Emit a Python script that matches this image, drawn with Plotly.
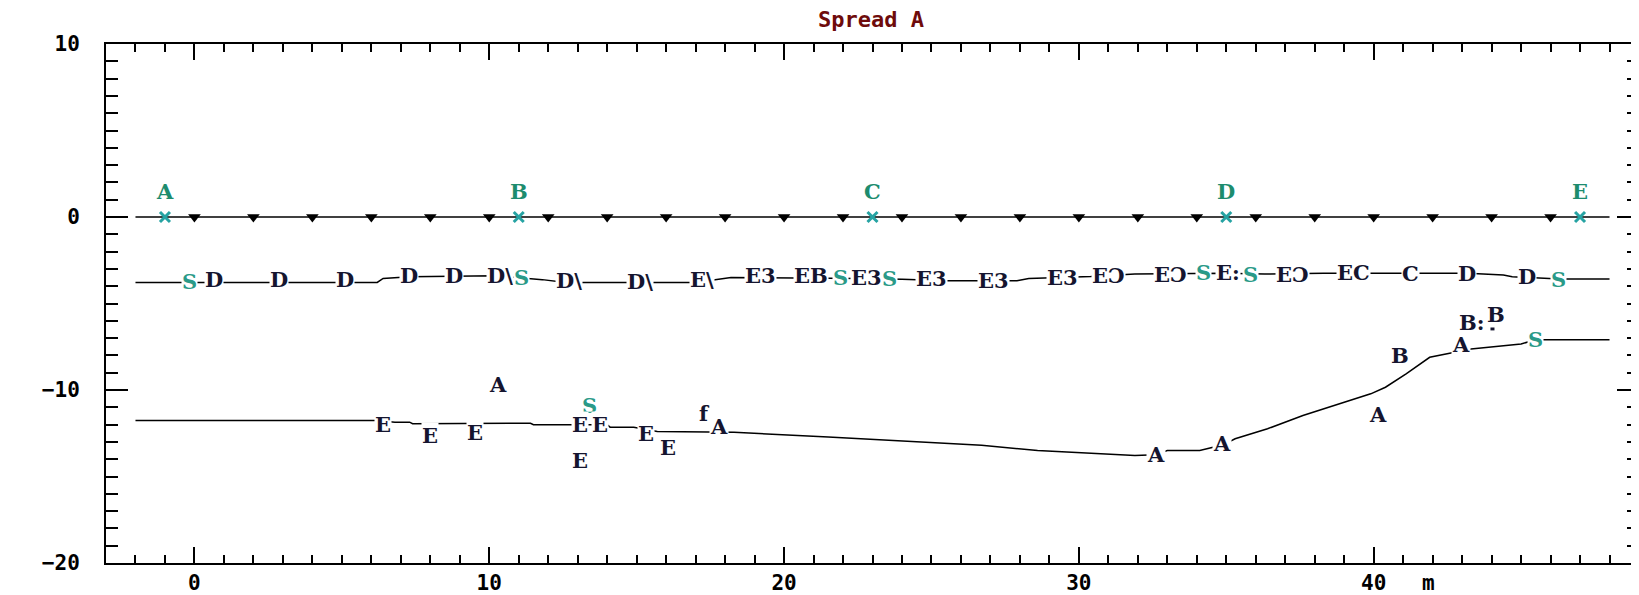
import plotly.graph_objects as go

# ---------------- data ----------------
title_text = "Spread A"

# spread line (y = 0) with geophones and shots
spread_x = [-2, 48]
spread_y = [0, 0]
geo_x = [0, 2, 4, 6, 8, 10, 12, 14, 16, 18, 20, 22, 24, 26, 28, 30, 32, 34, 36, 38, 40, 42, 44, 46]
geo_y = [0] * len(geo_x)
shot_x = [-1, 11, 23, 35, 47]
shot_y = [0, 0, 0, 0, 0]
shot_names = ["A", "B", "C", "D", "E"]

# first refractor (middle line)
mid_x = [-2, 6.2, 6.4, 7.3, 10.2, 11.1, 11.8, 12.6, 17.0, 18.2, 21.5, 22.6, 24.0, 25.5, 27.9,
         28.3, 30.4, 31.9, 34.9, 36.3, 38.3, 43.2, 44.4, 44.7, 46.3, 48]
mid_y = [-3.78, -3.78, -3.55, -3.45, -3.40, -3.50, -3.62, -3.78, -3.78, -3.50, -3.52, -3.55, -3.60,
         -3.68, -3.68, -3.55, -3.44, -3.30, -3.25, -3.30, -3.25, -3.25, -3.35, -3.45, -3.59, -3.59]
mid_lab_text = ["S", "D", "D", "D", "D", "D", "D\\", "S", "D\\", "D\\", "E\\", "E3", "EB", "S", "E3",
                "S", "E3", "E3", "E3", "EƆ", "EƆ", "S", "E:", "S", "EƆ", "EC", "C", "D", "D", "S"]
mid_lab_x = [-0.17, 0.68, 2.88, 5.12, 7.29, 8.8, 10.35, 11.08, 12.7, 15.1, 17.2, 19.2, 20.9, 21.9, 22.8,
             23.57, 25.0, 27.1, 29.45, 31.0, 33.1, 34.23, 35.05, 35.81, 37.25, 39.3, 41.24, 43.16, 45.2, 46.27]
mid_lab_y = [-3.73, -3.63, -3.63, -3.59, -3.40, -3.36, -3.36, -3.50, -3.69, -3.73, -3.63, -3.40, -3.40,
             -3.50, -3.50, -3.55, -3.55, -3.69, -3.50, -3.40, -3.30, -3.21, -3.21, -3.30, -3.30, -3.21,
             -3.25, -3.25, -3.44, -3.59]

# second refractor (bottom line)
bot_x = [-2, 6.2, 6.8, 7.3, 7.4, 9.9, 10.0, 11.4, 11.5, 14.0, 14.1, 14.9, 15.7, 17.5, 18.3, 21.5, 24.5,
         26.7, 28.6, 30.6, 31.9, 32.6, 33.0, 34.1, 34.9, 35.3, 36.4, 37.6, 38.8, 39.9, 40.4, 41.1, 41.9,
         42.3, 43.3, 45.0, 45.5, 48]
bot_y = [-11.76, -11.76, -11.86, -11.86, -11.95, -11.95, -11.92, -11.92, -12.01, -12.01, -12.15, -12.15,
         -12.40, -12.40, -12.44, -12.72, -13.00, -13.20, -13.50, -13.69, -13.78, -13.74, -13.50, -13.50,
         -13.17, -12.82, -12.24, -11.47, -10.80, -10.22, -9.84, -9.07, -8.11, -7.98, -7.63, -7.34,
         -7.09, -7.09]
bot_lab_text = ["E", "E", "E", "A", "S", "E", "E", "E", "E", "E", "f", "A", "A", "A", "A", "B", "A",
                "B:", "B", "S"]
bot_lab_x = [6.4, 8.0, 9.5, 10.3, 13.4, 13.07, 13.74, 13.07, 15.3, 16.05, 17.3, 17.8, 32.6, 34.85,
             40.16, 40.9, 42.95, 43.33, 44.15, 45.48]
bot_lab_y = [-12.01, -12.63, -12.44, -9.71, -10.9, -12.01, -12.01, -14.07, -12.53, -13.3, -11.38,
             -12.09, -13.74, -13.12, -11.44, -8.02, -7.38, -6.09, -5.61, -7.09]
dot_x = [44.03]
dot_y = [-6.44]

x_ticks = [0, 10, 20, 30, 40]
y_ticks = [-20, -10, 0, 10]
x_unit = "m"
x_unit_pos = 41.85

# ---------------- style ----------------
DARK = "#15152f"
TEAL_S = "#2a9a88"
TEAL_LAB = "#1d8c6e"
TEAL_X = "#26a3a3"
LETTER_FONT = dict(family="DejaVu Serif", size=21, weight="bold")
TICK_FONT = dict(family="DejaVu Sans Mono", size=21, color="black", weight="bold")

# the page body has an 8px margin, so the figure is sized to fit inside the window
PAGE_OFFSET = 8
FIG_W, FIG_H = 1639 - PAGE_OFFSET, 595 - PAGE_OFFSET

fig = go.Figure()

line_style = dict(color="black", width=1.5)
fig.add_trace(go.Scatter(x=spread_x, y=spread_y, mode="lines", line=line_style, hoverinfo="skip"))
fig.add_trace(go.Scatter(x=mid_x, y=mid_y, mode="lines", line=line_style, hoverinfo="skip"))
fig.add_trace(go.Scatter(x=bot_x, y=bot_y, mode="lines", line=line_style, hoverinfo="skip"))

# geophones
fig.add_trace(go.Scatter(x=geo_x, y=geo_y, mode="markers",
                         marker=dict(symbol="triangle-down", size=11, color="black",
                                     line=dict(width=0)),
                         hoverinfo="skip"))
# shots
fig.add_trace(go.Scatter(x=shot_x, y=shot_y, mode="markers",
                         marker=dict(symbol="x-thin", size=10, line=dict(width=3, color=TEAL_X)),
                         hoverinfo="skip"))

annotations = []
for name, sx, sy in zip(shot_names, shot_x, shot_y):
    annotations.append(dict(x=sx, y=sy, text=name, showarrow=False, yshift=26,
                            font=dict(**LETTER_FONT, color=TEAL_LAB)))

def add_labels(texts, xs, ys):
    for t, lx, ly in zip(texts, xs, ys):
        col = TEAL_S if t == "S" else DARK
        annotations.append(dict(x=lx, y=ly, text=t, showarrow=False, bgcolor="white",
                                borderpad=0, font=dict(**LETTER_FONT, color=col)))

add_labels(mid_lab_text, mid_lab_x, mid_lab_y)
add_labels(bot_lab_text, bot_lab_x, bot_lab_y)

# small dot mark (drawn after the label boxes are laid out, as a data marker)
fig.add_trace(go.Scatter(x=dot_x, y=dot_y, mode="markers",
                         marker=dict(symbol="square", size=4, color=DARK), hoverinfo="skip"))

annotations.append(dict(x=x_unit_pos, y=0, xref="x", yref="paper", text=x_unit, showarrow=False,
                        yanchor="middle", yshift=-20, font=TICK_FONT))

fig.update_layout(
    width=FIG_W, height=FIG_H,
    margin=dict(l=106 - PAGE_OFFSET, r=0, t=44 - PAGE_OFFSET, b=32, autoexpand=False),
    paper_bgcolor="white", plot_bgcolor="white",
    showlegend=False,
    title=dict(text=title_text, x=(871 - PAGE_OFFSET) / FIG_W, xref="container", xanchor="center",
               y=1 - (19 - PAGE_OFFSET) / FIG_H, yref="container", yanchor="middle",
               font=dict(family="DejaVu Sans Mono", size=22, color="#6e0b0b", weight="bold")),
    annotations=annotations,
)

fig.update_xaxes(range=[-3, 49], showline=True, linecolor="black", linewidth=2, mirror="ticks",
                 ticks="inside", ticklen=16, tickwidth=2, tickcolor="black",
                 tickmode="array", tickvals=x_ticks, ticktext=[str(v) for v in x_ticks],
                 tickfont=TICK_FONT, ticklabelstandoff=0, automargin=False,
                 showgrid=False, zeroline=False,
                 minor=dict(ticks="inside", ticklen=8, tickwidth=2, tickcolor="black",
                            tick0=0, dtick=1, showgrid=False))
fig.update_yaxes(range=[-20, 10], showline=True, linecolor="black", linewidth=2, mirror="ticks",
                 ticks="inside", ticklen=22, tickwidth=2, tickcolor="black",
                 tickmode="array", tickvals=y_ticks,
                 ticktext=[("−" + str(-v)) if v < 0 else str(v) for v in y_ticks],
                 tickfont=TICK_FONT, ticklabelstandoff=20, automargin=False,
                 showgrid=False, zeroline=False,
                 minor=dict(ticks="inside", ticklen=12, tickwidth=2, tickcolor="black",
                            tick0=0, dtick=1, showgrid=False))

fig.write_html("out.html")
